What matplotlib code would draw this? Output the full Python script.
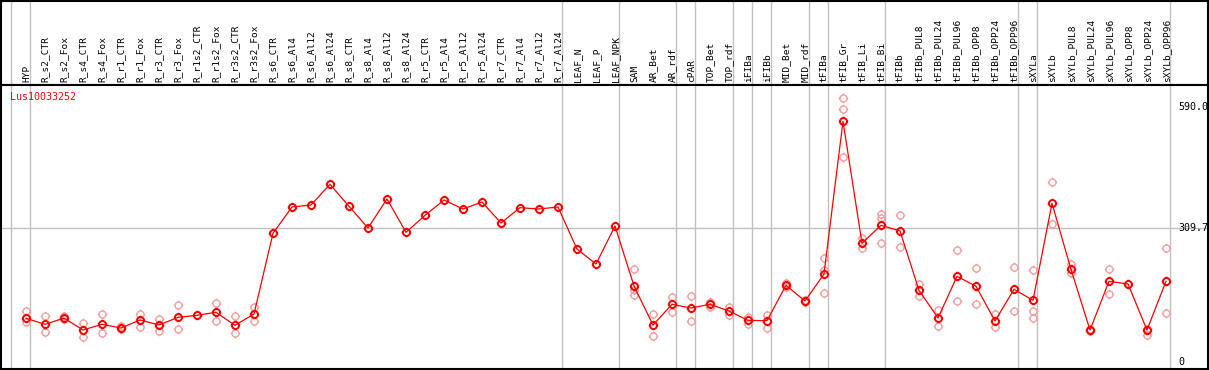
import matplotlib
matplotlib.use("Agg")
import matplotlib.pyplot as plt
from matplotlib.path import Path

# sample names along the top
samples = [
    "HYP",
    "R_s2_CTR", "R_s2_Fox", "R_s4_CTR", "R_s4_Fox", "R_r1_CTR", "R_r1_Fox",
    "R_r3_CTR", "R_r3_Fox", "R_r1s2_CTR", "R_r1s2_Fox", "R_r3s2_CTR", "R_r3s2_Fox",
    "R_s6_CTR", "R_s6_Al4", "R_s6_Al12", "R_s6_Al24",
    "R_s8_CTR", "R_s8_Al4", "R_s8_Al12", "R_s8_Al24",
    "R_r5_CTR", "R_r5_Al4", "R_r5_Al12", "R_r5_Al24",
    "R_r7_CTR", "R_r7_Al4", "R_r7_Al12", "R_r7_Al24",
    "LEAF_N", "LEAF_P", "LEAF_NPK",
    "SAM", "AR_Bet", "AR_rdf", "cPAR", "TOP_Bet", "TOP_rdf",
    "iFIBa", "iFIBb", "MID_Bet", "MID_rdf",
    "tFIBa", "tFIB_Gr", "tFIB_Li", "tFIB_Bi",
    "tFIBb", "tFIBb_PUL8", "tFIBb_PUL24", "tFIBb_PUL96",
    "tFIBb_OPP8", "tFIBb_OPP24", "tFIBb_OPP96",
    "sXYLa", "sXYLb", "sXYLb_PUL8", "sXYLb_PUL24", "sXYLb_PUL96",
    "sXYLb_OPP8", "sXYLb_OPP24", "sXYLb_OPP96",
]

# mean expression per sample
means = [
    100.5, 86.6, 101, 73.4, 86.6, 78, 96.6, 85, 102.8, 107.4, 114.4, 84.3, 110.5,
    297.4, 358.4, 363, 410.9, 360, 309.7, 376.9, 299.7,
    339, 374.6, 353.7, 369.9, 321.3, 356.7, 353.7, 358.4,
    261, 226.3, 314.3,
    175.4, 85, 133, 124.4, 133, 117.4, 95.8, 95, 177, 140.6,
    203.1, 556.9, 274.3, 316,
    302.8, 165.4, 101.2, 197.8, 174.7, 94.3, 167.7,
    142.2, 366.9, 214, 73.4, 186.2, 180, 73.4, 186.2,
]

# individual replicates (only the visible ones)
replicates = [
    [118, 91], [105, 68], [105, 99], [89.6, 56.5], [109.8, 65.8], [83.4, 75],
    [110.5, 81], [98.9, 71.8], [130.6, 75], [], [135.2, 93.5], [105, 65.8],
    [126, 93.5],
    [], [], [], [], [], [], [], [], [], [], [], [], [], [], [], [],
    [], [], [],
    [214.7, 165.4, 153.8], [110.5, 58.8], [149.9, 114.4], [152.2, 94.3],
    [138.3, 126.7], [126.7, 108.2], [102.8, 88], [108.2, 77.3], [183, 174],
    [143, 138],
    [239.5, 213.1, 159.1], [610.8, 584.7, 473.5], [285.8, 264.1],
    [342.8, 332.2, 274.3],
    [339, 265], [180, 151.5], [119.8, 81.9], [258, 139.9], [216.3, 133.7],
    [109.8, 79.7], [219.4, 116.7],
    [211.7, 116.7, 101.2], [415.5, 318.3], [227, 204.8], [75, 71],
    [214.7, 156.8], [], [75, 62.5], [263.4, 112.8],
]

gene = "Lus10033252"
y_ticks = [0, 309.7, 590.0]
# group separators sit just right of these sample indices
group_ends = [-1, 0, 28, 31, 34, 35, 37, 38, 39, 41, 42, 45, 52, 53, 60]

W, H = 1209, 370
fig = plt.figure(figsize=(W / 100, H / 100), dpi=100)

# pixel layout
x0_px, step_px = 26, 19
left_px, right_px = 1, 1208
plot_top, plot_bot = 85, 369
zero_px, px_per_unit = 361.7, 0.4317

xlim = ((left_px - x0_px) / step_px, (right_px - x0_px) / step_px)
ylim = ((zero_px - plot_bot) / px_per_unit, (zero_px - plot_top) / px_per_unit)

ax_lab = fig.add_axes([left_px / W, 1 - plot_top / H, (right_px - left_px) / W, (plot_top - 0.5) / H])
ax = fig.add_axes([left_px / W, 1 - plot_bot / H, (right_px - left_px) / W, (plot_bot - plot_top) / H])

for a in (ax_lab, ax):
    a.set_xlim(*xlim)
    a.set_xticks([])
    a.set_yticks([])
    for s in a.spines.values():
        s.set_linewidth(1.5)
        s.set_color("black")
    for k in group_ends:
        a.axvline(k + 4 / step_px, color="#c0c0c0", lw=1, zorder=0)
ax.set_ylim(*ylim)

# marker: ring with four small nubs
circ = Path.unit_circle()
nubs = [Path([(0, 1), (0, 1.35)]), Path([(0, -1), (0, -1.35)]),
        Path([(1, 0), (1.35, 0)]), Path([(-1, 0), (-1.35, 0)])]
ring = Path.make_compound_path(circ, *nubs)

font = "DejaVu Sans Mono"
for i, name in enumerate(samples):
    ax_lab.text(i + 0.02, 3 / plot_top, name, rotation=90, ha="center", va="bottom",
                fontsize=6.8, family=font, transform=ax_lab.get_xaxis_transform())

ax.axhline(y_ticks[1], color="#c0c0c0", lw=1, zorder=0)

xs = list(range(len(samples)))
for i, reps in enumerate(replicates):
    if reps:
        ax.plot([i] * len(reps), reps, ls="none", marker=ring, ms=6.8, mfc="none",
                mec="#f0a0a0", mew=1.0, zorder=2)
ax.plot(xs, means, color="red", lw=0.9, zorder=3)
ax.plot(xs, means, ls="none", marker=ring, ms=6.8, mfc="none", mec="red",
        mew=1.4, zorder=4)

# gene name, top left of the plot
ax.text((10 - left_px) / (right_px - left_px), 1 - (97 - plot_top) / (plot_bot - plot_top),
        gene, color="red", fontsize=7.2, family=font, va="center", ha="left",
        transform=ax.transAxes)

# value labels on the right, inside the frame
tx = (1178 - x0_px) / step_px
for v in y_ticks:
    label = "0" if v == 0 else f"{v:.1f}"
    ax.text(tx, v, label, fontsize=7.2, family=font, va="center", ha="left",
            clip_on=True)

fig.savefig("out.png", dpi=100)
